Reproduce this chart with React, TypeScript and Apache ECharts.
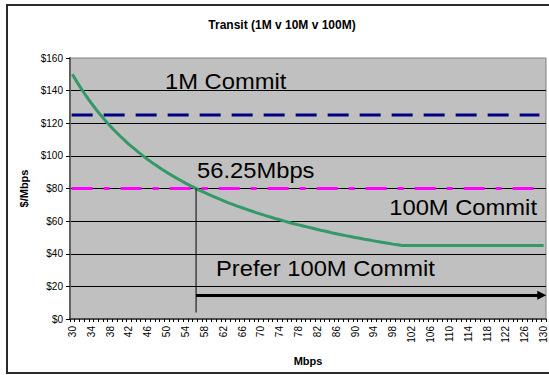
import { useEffect, useRef } from "react";
import * as echarts from "echarts";

// Monthly transit bandwidth, 30 to 130 Mbps in 1 Mbps steps
const mbps: string[] = Array.from({ length: 101 }, (_, i) => String(30 + i));

// Effective $/Mbps on the 100M commit (fixed spend spread over actual usage, floor at $45)
const costPerMbps100M: number[] = [
  150.0, 145.2, 140.6, 136.4, 132.4, 128.6, 125.0, 121.6, 118.4, 115.4,
  112.5, 109.8, 107.1, 104.7, 102.3, 100.0, 97.8, 95.7, 93.8, 91.8,
  90.0, 88.2, 86.5, 84.9, 83.3, 81.8, 80.4, 78.9, 77.6, 76.3,
  75.0, 73.8, 72.6, 71.4, 70.3, 69.2, 68.2, 67.2, 66.2, 65.2,
  64.3, 63.4, 62.5, 61.6, 60.8, 60.0, 59.2, 58.4, 57.7, 57.0,
  56.3, 55.6, 54.9, 54.2, 53.6, 52.9, 52.3, 51.7, 51.1, 50.6,
  50.0, 49.5, 48.9, 48.4, 47.9, 47.4, 46.9, 46.4, 45.9, 45.5,
  45.0, 45.0, 45.0, 45.0, 45.0, 45.0, 45.0, 45.0, 45.0, 45.0,
  45.0, 45.0, 45.0, 45.0, 45.0, 45.0, 45.0, 45.0, 45.0, 45.0,
  45.0, 45.0, 45.0, 45.0, 45.0, 45.0, 45.0, 45.0, 45.0, 45.0,
  45.0,
];

// Flat commit prices, $/Mbps
const commitPrices: number[] = [125, 80];
// Break-even usage where the 100M commit becomes cheaper
const breakEvenMbps: number[] = [56.25];
// Y axis ticks, $/Mbps
const yTicks: number[] = [0, 20, 40, 60, 80, 100, 120, 140, 160];

// Drawn-line extents in axis units (Mbps / $)
const commitLineFrom = 29.85;
const commitLineTo = 129.1;
const markerBottom = 4;
const arrowLevel = 14.5;
const arrowTo = 129.6;

const FONT = "'Liberation Sans', Arial, Helvetica, sans-serif";

export default function App() {
  const ref = useRef<HTMLDivElement>(null);

  useEffect(() => {
    if (!ref.current) return;
    const chart = echarts.init(ref.current, null, { renderer: "svg" });

    const bigText = (text: string, x: number, y: number, align: string) => ({
      type: "text",
      x,
      y,
      scaleX: 1.08,
      silent: true,
      style: {
        text,
        fill: "#000",
        fontSize: 22,
        fontFamily: FONT,
        textAlign: align,
        textVerticalAlign: "middle",
      },
    });

    chart.setOption({
      animation: false,
      backgroundColor: "#ffffff",
      grid: {
        left: 70,
        right: 3,
        top: 58,
        bottom: 56,
        show: true,
        backgroundColor: "#C0C0C0",
        borderColor: "#808080",
        borderWidth: 1,
        outerBoundsMode: "none",
      },
      xAxis: [
        {
          type: "category",
          data: mbps,
          boundaryGap: true,
          name: "Mbps",
          nameLocation: "middle",
          nameGap: 36,
          nameTextStyle: { fontFamily: FONT, fontSize: 11, fontWeight: "bold", color: "#000" },
          axisLine: { lineStyle: { color: "#333", width: 1.5 } },
          axisTick: { show: true, interval: 0, length: 3, lineStyle: { color: "#000" } },
          axisLabel: {
            interval: 3,
            rotate: 90,
            margin: 7,
            fontFamily: FONT,
            fontSize: 10,
            color: "#000",
          },
          splitLine: { show: false },
        },
        {
          type: "value",
          min: 29.5,
          max: 130.5,
          show: false,
        },
      ],
      yAxis: {
        type: "value",
        min: yTicks[0],
        max: yTicks[yTicks.length - 1],
        interval: yTicks[1] - yTicks[0],
        name: "$/Mbps",
        nameLocation: "middle",
        nameRotate: 90,
        nameGap: 41,
        nameTextStyle: { fontFamily: FONT, fontSize: 11, fontWeight: "bold", color: "#000" },
        axisLine: { show: true, lineStyle: { color: "#606060", width: 2 } },
        axisTick: { show: true, length: 4, lineStyle: { color: "#000" } },
        axisLabel: {
          margin: 7,
          fontFamily: FONT,
          fontSize: 10,
          color: "#000",
          formatter: (v: number) => "$" + v,
        },
        splitLine: {
          show: true,
          showMinLine: false,
          showMaxLine: false,
          lineStyle: { color: "#000", width: 1 },
        },
      },
      series: [
        {
          name: "1M Commit",
          type: "line",
          xAxisIndex: 1,
          data: [
            [commitLineFrom, commitPrices[0]],
            [commitLineTo, commitPrices[0]],
          ],
          symbol: "none",
          lineStyle: { color: "#000080", width: 3, type: [21, 11] },
          z: 3,
        },
        {
          name: "100M Commit",
          type: "line",
          xAxisIndex: 1,
          data: [
            [commitLineFrom, commitPrices[1]],
            [commitLineTo, commitPrices[1]],
          ],
          symbol: "none",
          lineStyle: { color: "#FF00FF", width: 3, type: [21, 11, 6, 11] },
          z: 3,
        },
        {
          name: "Transit",
          type: "line",
          xAxisIndex: 0,
          data: costPerMbps100M,
          symbol: "none",
          smooth: false,
          lineStyle: { color: "#339966", width: 3 },
          z: 4,
        },
        {
          name: "Break-even",
          type: "line",
          xAxisIndex: 1,
          data: [
            [breakEvenMbps[0], commitPrices[1]],
            [breakEvenMbps[0], markerBottom],
          ],
          symbol: "none",
          lineStyle: { color: "#000", width: 1 },
          z: 5,
          markLine: {
            silent: true,
            animation: false,
            symbol: ["none", "triangle"],
            symbolSize: [9, 9],
            label: { show: false },
            lineStyle: { color: "#000", width: 3, type: "solid" },
            data: [
              [
                { coord: [breakEvenMbps[0], arrowLevel] },
                { coord: [arrowTo, arrowLevel] },
              ],
            ],
          },
        },
      ],
      graphic: [
        {
          type: "rect",
          silent: true,
          shape: { x: 7, y: 5, width: 560, height: 368 },
          style: { fill: "none", stroke: "#2a2a2a", lineWidth: 2 },
        },
        {
          type: "text",
          x: 282,
          y: 25,
          silent: true,
          style: {
            text: "Transit (1M v 10M v 100M)",
            fill: "#000",
            fontSize: 12,
            fontWeight: "bold",
            fontFamily: FONT,
            textAlign: "center",
            textVerticalAlign: "middle",
          },
        },
        bigText("1M Commit", 165, 81.5, "left"),
        bigText("56.25Mbps", 197, 170.5, "left"),
        bigText("100M Commit", 537, 207.5, "right"),
        bigText("Prefer 100M Commit", 216, 268.5, "left"),
      ],
    });

    return () => chart.dispose();
  }, []);

  return (
    <div
      ref={ref}
      style={{ position: "absolute", left: 0, top: 0, width: 549, height: 375 }}
    />
  );
}
